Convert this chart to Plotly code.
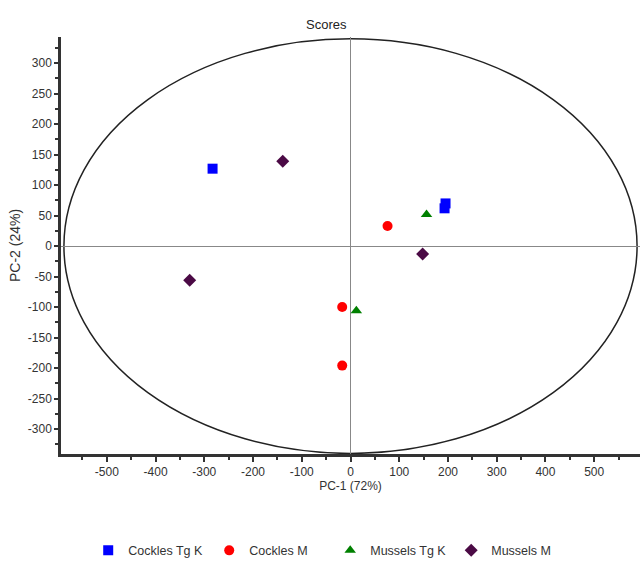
import plotly.graph_objects as go

# ---- data ----
series_names = ["Cockles Tg K", "Cockles M", "Mussels Tg K", "Mussels M"]
cockles_tgk_x = [-283, 195, 193]
cockles_tgk_y = [127, 70, 62]
cockles_m_x = [76, -17, -17]
cockles_m_y = [33, -100, -196]
mussels_tgk_x = [156, 12]
mussels_tgk_y = [52, -106]
mussels_m_x = [-139, -330, 148]
mussels_m_y = [139, -56, -13]

# confidence ellipse semi-axes
ellipse_a = 588
ellipse_b = 340

x_ticks = [-500, -400, -300, -200, -100, 0, 100, 200, 300, 400, 500]
y_ticks = [-300, -250, -200, -150, -100, -50, 0, 50, 100, 150, 200, 250, 300]
x_tick_labels = [str(v) for v in x_ticks]
y_tick_labels = [str(v) for v in y_ticks]

series = [
    (series_names[0], cockles_tgk_x, cockles_tgk_y, "square", "#0000FF", 10),
    (series_names[1], cockles_m_x, cockles_m_y, "circle", "#FF0000", 10),
    (series_names[2], mussels_tgk_x, mussels_tgk_y, "triangle-up", "#008000", 10),
    (series_names[3], mussels_m_x, mussels_m_y, "diamond", "#4B0A45", 10),
]

fig = go.Figure()
for name, xs, ys, sym, col, sz in series:
    fig.add_trace(go.Scatter(
        x=xs, y=ys, mode="markers", name=name,
        marker=dict(symbol=sym, color=col, size=sz, line=dict(width=0)),
    ))

fig.add_shape(type="circle", xref="x", yref="y",
              x0=-ellipse_a, x1=ellipse_a, y0=-ellipse_b, y1=ellipse_b,
              line=dict(color="#222222", width=1.5), layer="below")

axis_font = dict(family="Liberation Sans, Arial, sans-serif", size=12, color="#333333")

fig.update_layout(
    width=641, height=565,
    margin=dict(l=61, r=1, t=37, b=111, autoexpand=False),
    paper_bgcolor="white", plot_bgcolor="white",
    font=axis_font,
    title=dict(text="Scores", x=0.509, xref="container", xanchor="center",
               y=0.956, yref="container", yanchor="middle",
               font=dict(family="Liberation Sans, Arial, sans-serif", size=13, color="#222222")),
    showlegend=True,
    legend=dict(orientation="h", x=0.047, xanchor="left", y=-0.232, yanchor="middle",
                font=dict(family="Liberation Sans, Arial, sans-serif", size=12.5, color="#333333"),
                itemwidth=30, entrywidth=76, entrywidthmode="pixels", tracegroupgap=0),
)

fig.update_xaxes(
    range=[-594, 594], tickvals=x_ticks, ticktext=x_tick_labels, showgrid=False,
    zeroline=True, zerolinecolor="#888888", zerolinewidth=1,
    showline=True, linecolor="#333333", linewidth=2.5,
    ticks="outside", ticklen=5, tickwidth=1.5, tickcolor="#333333",
    minor=dict(dtick=50, tick0=0, ticks="outside", ticklen=3, tickwidth=1.5, tickcolor="#333333"),
    title=dict(text="PC-1 (72%)", standoff=0, font=axis_font),
    tickfont=axis_font,
)
fig.update_yaxes(
    range=[-341, 343], tickvals=y_ticks, ticktext=y_tick_labels, showgrid=False,
    zeroline=True, zerolinecolor="#888888", zerolinewidth=1,
    showline=True, linecolor="#333333", linewidth=2.5,
    ticks="outside", ticklen=4, tickwidth=1.5, tickcolor="#333333",
    minor=dict(dtick=25, tick0=0, ticks="outside", ticklen=3, tickwidth=1.5, tickcolor="#333333"),
    title=dict(text="PC-2 (24%)", standoff=4,
               font=dict(family="Liberation Sans, Arial, sans-serif", size=14, color="#333333")),
    tickfont=axis_font,
)

fig.write_html("out.html")
